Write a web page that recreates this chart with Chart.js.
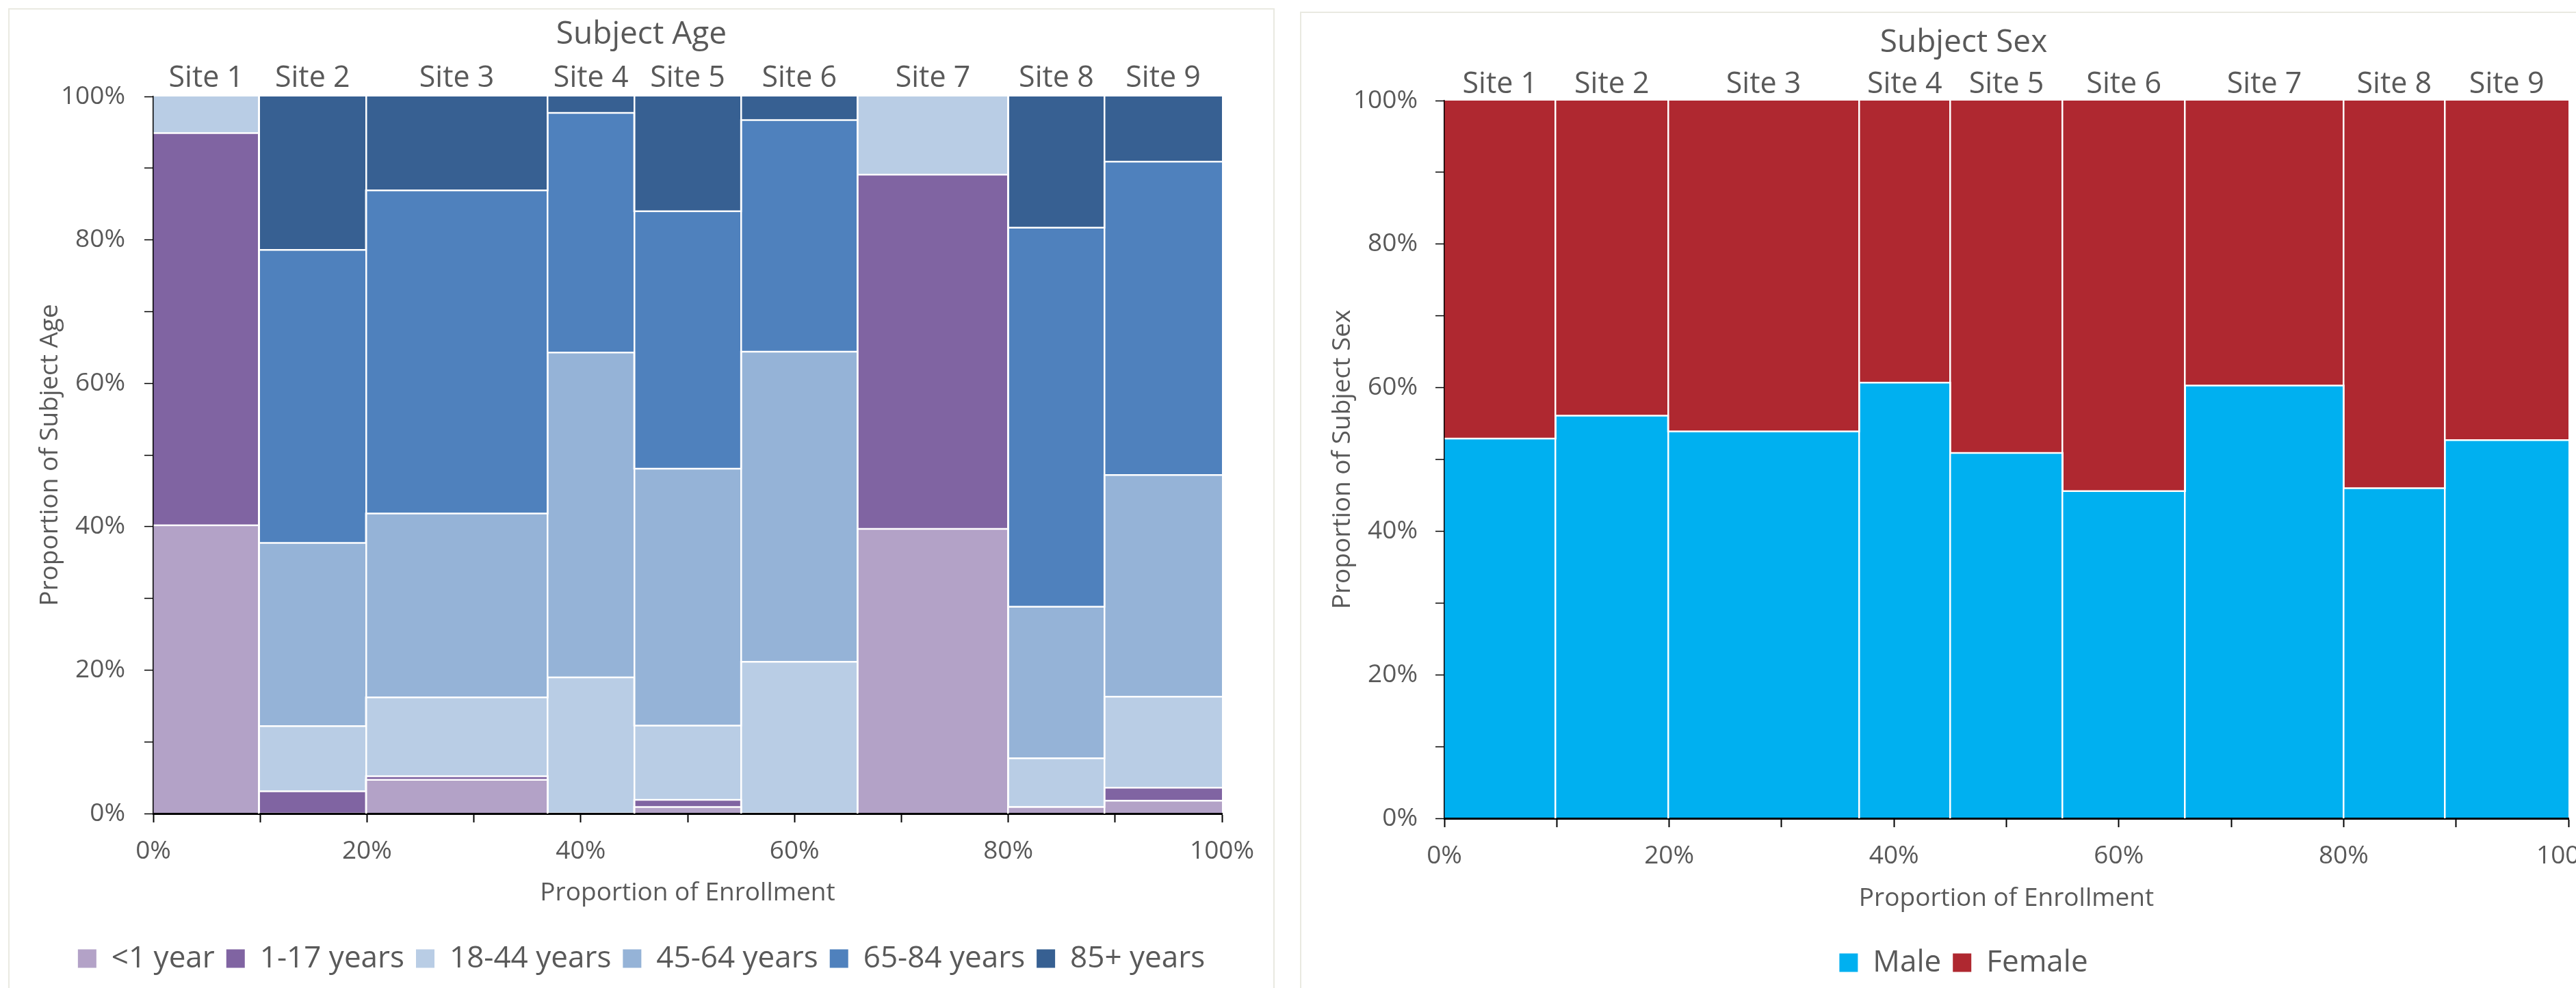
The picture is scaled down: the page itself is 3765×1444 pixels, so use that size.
<!DOCTYPE html>
<html lang="en">
<head>
<meta charset="UTF-8">
<title>Subject Age and Sex by Site</title>
<style>
  html, body { margin: 0; padding: 0; background: #fff; }
  body { width: 3765px; height: 1444px; overflow: hidden; position: relative; }
  .panel { position: absolute; box-sizing: border-box; border: 2px solid #E9E9E1; background: #fff; }
  .panel canvas { display: block; }
</style>
</head>
<body>
<div class="panel" style="left:12px; top:12px; width:1851px; height:1450px;">
  <canvas id="ageChart" width="1847" height="1446"></canvas>
</div>
<div class="panel" style="left:1900px; top:17px; width:1940px; height:1450px;">
  <canvas id="sexChart" width="1936" height="1446"></canvas>
</div>

<script src="https://cdn.jsdelivr.net/npm/chart.js"></script>
<script>
// site names and each site's share of enrollment (%)
const sites = ['Site 1', 'Site 2', 'Site 3', 'Site 4', 'Site 5', 'Site 6', 'Site 7', 'Site 8', 'Site 9'];
const enrollmentShare = [9.9, 10.0, 17.0, 8.1, 10.0, 10.9, 14.1, 9.0, 11.0];

// age mix within each site (%)
const ageGroups = ['<1 year', '1-17 years', '18-44 years', '45-64 years', '65-84 years', '85+ years'];
const ageUnder1 = [40.2, 0, 4.7, 0, 0.9, 0, 39.7, 0.9, 1.8];
const age1to17 = [54.7, 3.1, 0.5, 0, 1.0, 0, 49.4, 0, 1.8];
const age18to44 = [5.1, 9.1, 11.0, 19.0, 10.35, 21.15, 10.9, 6.8, 12.7];
const age45to64 = [0, 25.55, 25.65, 45.3, 35.85, 43.25, 0, 21.15, 30.9];
const age65to84 = [0, 40.85, 45.05, 33.4, 35.9, 32.3, 0, 52.85, 43.7];
const age85plus = [0, 21.4, 13.1, 2.3, 16.0, 3.3, 0, 18.3, 9.1];
const ageColors = ['#B3A2C7', '#8064A2', '#B9CDE5', '#95B3D7', '#4F81BD', '#376092'];

// sex mix within each site (%)
const sexGroups = ['Male', 'Female'];
const male = [52.9, 56.1, 53.9, 60.7, 50.9, 45.6, 60.3, 46.0, 52.7];
const female = [47.1, 43.9, 46.1, 39.3, 49.1, 54.4, 39.7, 54.0, 47.3];
const sexColors = ['#00B0F0', '#AF2830'];

const majorTicks = [0, 20, 40, 60, 80, 100];

const txt = '#595959';
Chart.defaults.font.family = "'Open Sans', sans-serif";

// site edges on the enrollment axis
const siteEdges = [0];
enrollmentShare.forEach(v => siteEdges.push(siteEdges[siteEdges.length - 1] + v));
const siteCenters = sites.map((s, i) => (siteEdges[i] + siteEdges[i + 1]) / 2);

// each group becomes a step line at its cumulative top, filled down to the group below
function stackedSteps(series) {
  const tops = sites.map(() => 0);
  return series.map(vals => {
    const pts = [];
    vals.forEach((v, i) => {
      tops[i] += v;
      pts.push({ x: siteEdges[i], y: tops[i] }, { x: siteEdges[i + 1], y: tops[i] });
    });
    return pts;
  });
}

function makeChart(id, titleText, yTitleText, names, colors, series, L) {
  const datasets = stackedSteps(series).map((pts, k) => ({
    label: names[k],
    data: pts,
    xAxisID: 'x',
    yAxisID: 'y',
    backgroundColor: colors[k],
    borderColor: '#ffffff',
    borderWidth: 2.5,
    pointRadius: 0,
    pointHoverRadius: 0,
    tension: 0,
    clip: 0,
    fill: k === 0 ? 'origin' : '-1',
    segment: {
      borderColor: c => (c.p0.parsed.y > 99.9 && c.p1.parsed.y > 99.9) ? 'rgba(0,0,0,0)' : '#ffffff'
    }
  }));

  return new Chart(document.getElementById(id), {
    type: 'line',
    data: { datasets },
    options: {
      responsive: false,
      animation: false,
      devicePixelRatio: 1,
      events: [],
      layout: { padding: { top: 0, left: 0, right: 0, bottom: L.padBottom } },
      plugins: {
        title: {
          display: true, text: titleText, color: txt,
          font: { size: 46, weight: 'normal' },
          padding: { top: L.titleTop, bottom: 0 }
        },
        legend: {
          position: 'bottom',
          labels: {
            color: txt, font: { size: 44 }, boxWidth: 27, boxHeight: 27, padding: 17,
            generateLabels: chart => Chart.defaults.plugins.legend.labels.generateLabels(chart)
              .map(l => Object.assign(l, { lineWidth: 0, strokeStyle: 'rgba(0,0,0,0)' }))
          }
        },
        tooltip: { enabled: false }
      },
      scales: {
        x: {
          type: 'linear', position: 'bottom', min: 0, max: 100,
          ticks: {
            stepSize: 10, autoSkip: false, maxRotation: 0, padding: L.xTickPad,
            color: txt, font: { size: 37 },
            callback: v => majorTicks.includes(Math.round(v)) ? Math.round(v) + '%' : ''
          },
          grid: { drawOnChartArea: false, drawTicks: true, tickLength: 13, tickColor: '#000', tickWidth: 2 },
          border: { display: true, color: '#000', width: 3, z: 1 },
          title: {
            display: true, text: 'Proportion of Enrollment', color: txt,
            font: { size: 37 }, padding: { top: 0, bottom: L.xTitleBottom }
          },
          afterFit: s => { s.height = L.xHeight; }
        },
        xTop: {
          type: 'linear', position: 'top', min: 0, max: 100,
          afterBuildTicks: s => {
            s.ticks = siteCenters.map(v => ({ value: v }))
              .concat(siteEdges.slice(1, -1).map(v => ({ value: v })));
          },
          ticks: {
            autoSkip: false, maxRotation: 0, minRotation: 0, padding: L.siteLabelPad,
            color: txt, font: { size: 43 },
            callback: (v, i) => i < sites.length ? sites[i] : ''
          },
          grid: {
            display: true, drawOnChartArea: true, drawTicks: false, z: 1, lineWidth: 2.5,
            color: c => c.index >= sites.length ? '#ffffff' : 'rgba(0,0,0,0)'
          },
          border: { display: false },
          afterFit: s => { s.height = L.topHeight; }
        },
        y: {
          type: 'linear', position: 'left', min: 0, max: 100,
          ticks: {
            stepSize: 10, padding: L.yTickPad, color: txt, font: { size: 37 },
            callback: v => majorTicks.includes(Math.round(v)) ? Math.round(v) + '%' : ''
          },
          grid: { drawOnChartArea: false, drawTicks: true, tickLength: 13, tickColor: '#000', tickWidth: 1.5 },
          border: { display: true, color: '#000', width: 1.5, z: 1 },
          title: {
            display: true, text: yTitleText, color: txt,
            font: { size: 37 }, padding: { top: L.yTitleTop, bottom: 0 }
          },
          afterFit: s => { s.width = L.yWidth; }
        },
        yR: {
          type: 'linear', position: 'right', min: 0, max: 100,
          ticks: { display: false },
          grid: { display: false },
          border: { display: false },
          afterFit: s => { s.width = L.rightWidth; }
        }
      }
    }
  });
}

function drawAll() {
  makeChart('ageChart', 'Subject Age', 'Proportion of Subject Age', ageGroups, ageColors,
    [ageUnder1, age1to17, age18to44, age45to64, age65to84, age85plus],
    { titleTop: 9.4, topHeight: 62.4, siteLabelPad: 0, yWidth: 210, yTickPad: 28, yTitleTop: 37,
      rightWidth: 75, xHeight: 173, xTickPad: 20, xTitleBottom: 34.8, padBottom: 27 });

  makeChart('sexChart', 'Subject Sex', 'Proportion of Subject Sex', sexGroups, sexColors,
    [male, female],
    { titleTop: 16.4, topHeight: 56.4, siteLabelPad: -3, yWidth: 209, yTickPad: 26, yTitleTop: 37.8,
      rightWidth: 84, xHeight: 172, xTickPad: 19.8, xTitleBottom: 32.8, padBottom: 26 });
}

if (document.fonts && document.fonts.load) {
  document.fonts.load("40px 'Open Sans'").then(drawAll, drawAll);
} else {
  drawAll();
}
</script>
</body>
</html>
